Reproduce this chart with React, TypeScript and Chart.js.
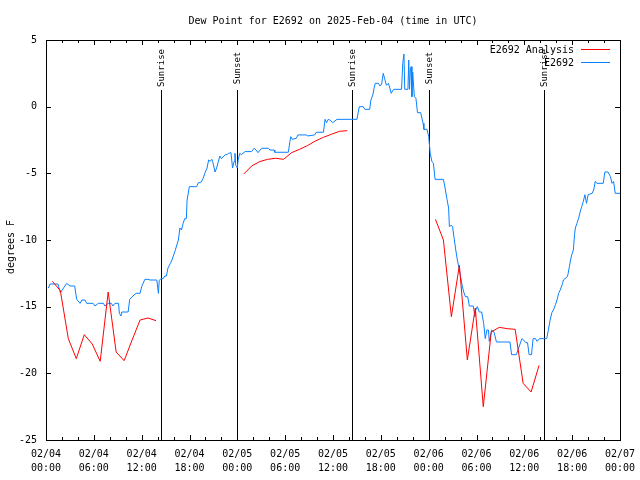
import React, { useEffect, useRef } from "react";
import { Chart, registerables } from "chart.js";

Chart.register(...registerables);

// Hours since 2025-02-04 00:00 UTC
const blueTimes = [
  0.3, 0.5, 1.5, 1.8, 2.6, 3.0, 3.6, 3.85, 4.27, 4.5, 4.9, 5.1, 5.9, 6.15, 6.56, 7.2, 7.4, 7.8, 8.2, 8.4,
  8.65, 9.1, 9.2, 9.4, 9.5, 10.3, 10.5, 10.9, 11.3, 11.8, 12.0, 12.4, 12.8, 13.05, 13.9, 14.1, 14.2, 14.4, 14.7, 14.9,
  15.1, 15.3, 15.6, 15.8, 16.2, 16.6, 16.8, 17.0, 17.2, 17.4, 17.6, 17.7, 17.98, 18.9, 19.1, 19.4, 19.7, 19.95, 20.2, 20.4,
  20.6, 20.8, 20.9, 21.2, 21.4, 21.8, 22.0, 22.5, 22.7, 22.9, 23.2, 23.4, 23.6, 23.7, 23.8, 24.0, 24.1, 24.3, 24.5, 24.97,
  25.8, 26.1, 26.35, 26.6, 27.05, 27.9, 28.1, 28.6, 28.7, 30.4, 30.6, 30.7, 30.9, 31.4, 31.6, 32.7, 32.8, 33.7, 33.9, 34.8,
  35.0, 35.2, 35.4, 35.6, 35.97, 36.5, 39.0, 39.3, 39.8, 40.0, 40.6, 40.75, 41.0, 41.15, 41.3, 41.7, 41.9, 42.1, 42.3, 42.5,
  42.7, 42.95, 43.2, 43.3, 43.6, 44.6, 44.75, 44.9, 45.0, 45.4, 45.5, 45.6, 45.7, 45.8, 45.9, 46.0, 46.2, 46.4, 46.6, 47.0,
  47.3, 47.4, 47.8, 48.0, 48.2, 48.4, 48.6, 48.8, 49.85, 50.06, 50.3, 50.5, 50.6, 50.8, 51.0, 51.2, 51.4, 51.6, 51.85, 52.0,
  52.2, 52.4, 52.6, 52.9, 53.1, 53.6, 53.8, 53.9, 54.1, 54.35, 54.65, 54.9, 55.1, 55.3, 55.5, 55.6, 55.9, 56.2, 56.5, 58.2,
  58.4, 59.0, 59.2, 59.7, 59.9, 60.2, 60.4, 60.6, 60.9, 61.1, 61.4, 61.6, 61.9, 62.8, 63.0, 63.2, 63.45, 63.65, 63.9, 64.1,
  64.3, 64.5, 64.8, 64.9, 65.1, 65.4, 65.5, 65.65, 65.8, 65.95, 66.15, 66.3, 66.4, 66.6, 66.8, 67.0, 67.2, 67.4, 67.6, 67.8,
  68.0, 68.5, 68.7, 68.9, 69.1, 69.9, 70.1, 70.5, 70.8, 71.0, 71.2, 71.4, 72.0,
];
const blueValues = [
  -13.6, -13.3, -13.3, -13.95, -13.25, -13.45, -13.45, -14.45, -14.75, -14.5, -14.5, -14.75, -14.75, -14.95, -14.75, -14.75, -14.95, -14.75, -14.75, -14.95,
  -14.75, -14.75, -15.5, -15.7, -15.4, -15.4, -14.45, -14.2, -14.0, -14.0, -13.5, -12.95, -12.95, -13.0, -13.0, -14.0, -13.05, -12.9, -12.9, -12.7,
  -12.7, -12.1, -11.75, -11.5, -10.8, -10.0, -9.1, -9.25, -8.75, -8.4, -8.4, -7.0, -6.0, -6.0, -5.7, -5.7, -5.4, -4.95, -4.6, -4.0,
  -4.1, -3.95, -4.1, -4.9, -4.6, -3.7, -3.9, -3.6, -3.6, -3.5, -3.45, -4.6, -4.1, -3.5, -4.4, -4.6, -4.0, -3.5, -3.6, -3.37,
  -3.37, -3.12, -3.25, -3.45, -3.12, -3.12, -3.25, -3.25, -3.42, -3.42, -2.6, -2.25, -2.45, -2.37, -2.12, -2.12, -2.2, -2.12, -1.92, -1.92,
  -0.95, -1.2, -0.95, -1.0, -1.2, -0.95, -0.95, 0.0, 0.0, -0.2, -0.2, 0.5, 0.88, 1.38, 1.75, 1.75, 1.55, 1.7, 2.5, 2.05,
  1.6, 1.75, 1.25, 1.0, 1.3, 1.3, 3.25, 3.95, 1.3, 1.3, 3.5, 1.3, 2.75, 3.0, 0.75, 2.6, 0.75, 0.63, -0.45, -0.45,
  -1.25, -1.7, -1.7, -2.25, -3.5, -4.1, -4.25, -5.45, -5.45, -6.1, -6.95, -7.6, -9.0, -8.9, -9.0, -9.9, -10.75, -11.5, -12.25, -12.75,
  -13.4, -13.9, -14.25, -14.25, -14.95, -14.95, -15.75, -15.25, -15.0, -15.4, -15.4, -16.25, -17.4, -16.75, -16.75, -17.6, -16.75, -16.9, -17.65, -17.65,
  -18.6, -18.6, -18.25, -17.4, -17.5, -17.7, -17.7, -18.6, -18.6, -17.4, -17.4, -17.6, -17.4, -17.4, -16.8, -16.1, -15.45, -15.25, -14.85, -14.5,
  -14.0, -13.75, -13.25, -13.0, -12.9, -12.75, -12.5, -12.0, -11.5, -11.1, -10.75, -9.6, -9.1, -8.75, -8.4, -7.9, -7.5, -7.1, -6.6, -7.25,
  -6.6, -6.5, -6.25, -5.6, -5.75, -5.75, -4.9, -4.9, -5.25, -5.75, -5.6, -6.5, -6.5,
];

// Analysis (hourly, with gaps marked by null)
const redTimes = [
  0.8, 1.8, 2.8, 3.8, 4.8, 5.8, 6.8, 7.8, 8.8, 9.8, 10.8, 11.8, 12.8, 13.8,
  19.0,
  24.8, 25.8, 26.8, 27.8, 28.8, 29.8, 30.8, 31.8, 32.8, 33.8, 34.8, 35.8, 36.8, 37.8,
  43.0,
  48.85, 49.85, 50.85, 51.85, 52.85, 53.85, 54.85, 55.85, 56.85, 57.85, 58.85, 59.85, 60.85, 61.85,
];
const redValues = [
  -13.1, -13.8, -17.4, -18.9, -17.1, -17.8, -19.1, -13.9, -18.4, -19.05, -17.5, -16.0, -15.85, -16.05,
  null,
  -5.05, -4.45, -4.12, -3.95, -3.87, -3.95, -3.45, -3.2, -2.92, -2.57, -2.3, -2.07, -1.85, -1.8,
  null,
  -8.45, -10.0, -15.75, -11.9, -19.0, -15.1, -22.5, -16.9, -16.55, -16.65, -16.7, -20.75, -21.4, -19.4,
];

const xTickDates = ["02/04", "02/04", "02/04", "02/04", "02/05", "02/05", "02/05", "02/05", "02/06", "02/06", "02/06", "02/06", "02/07"];
const xTickTimes = ["00:00", "06:00", "12:00", "18:00", "00:00", "06:00", "12:00", "18:00", "00:00", "06:00", "12:00", "18:00", "00:00"];

const sunLabels = ["Sunrise", "Sunset", "Sunrise", "Sunset", "Sunrise"];
const sunTimes = [14.42, 23.96, 38.38, 48.04, 62.47];

const seriesNames = ["E2692 Analysis", "E2692"];
const seriesColors = ["#ff0000", "#0a80ff"];

const FONT = '"DejaVu Sans Mono", "Liberation Mono", monospace';

const decor = {
  id: "decor",
  beforeDatasetsDraw(chart: any) {
    const { ctx, chartArea: a, scales } = chart;
    const x = scales.x;
    ctx.save();
    ctx.strokeStyle = "#000";
    ctx.fillStyle = "#000";
    ctx.lineWidth = 1;
    sunTimes.forEach((t, i) => {
      const px = Math.round(x.getPixelForValue(t)) + 0.5;
      ctx.beginPath();
      ctx.moveTo(px, a.top + 50);
      ctx.lineTo(px, a.bottom);
      ctx.stroke();
      ctx.save();
      ctx.translate(px, a.top + 28);
      ctx.rotate(-Math.PI / 2);
      ctx.font = "9px " + FONT;
      ctx.textAlign = "center";
      ctx.textBaseline = "middle";
      ctx.fillText(sunLabels[i], 0, 0);
      ctx.restore();
    });
    ctx.restore();
  },
  afterDatasetsDraw(chart: any) {
    const { ctx, chartArea: a, scales } = chart;
    const x = scales.x;
    const y = scales.y;
    ctx.save();
    ctx.strokeStyle = "#000";
    ctx.fillStyle = "#000";
    ctx.lineWidth = 1;
    // frame
    ctx.strokeRect(Math.round(a.left) + 0.5, Math.round(a.top) + 0.5, Math.round(a.right - a.left), Math.round(a.bottom - a.top));
    // x ticks (major every 6h, minor every 2h)
    ctx.beginPath();
    for (let h = 0; h <= 72; h += 2) {
      const px = Math.round(x.getPixelForValue(h)) + 0.5;
      const len = h % 6 === 0 ? 5 : 3;
      ctx.moveTo(px, a.bottom);
      ctx.lineTo(px, a.bottom - len);
      ctx.moveTo(px, a.top);
      ctx.lineTo(px, a.top + len);
    }
    // y ticks
    for (let v = -25; v <= 5; v += 5) {
      const py = Math.round(y.getPixelForValue(v)) + 0.5;
      ctx.moveTo(a.left, py);
      ctx.lineTo(a.left + 5, py);
      ctx.moveTo(a.right, py);
      ctx.lineTo(a.right - 5, py);
    }
    ctx.stroke();
    // title
    ctx.font = "10px " + FONT;
    ctx.textAlign = "center";
    ctx.textBaseline = "middle";
    ctx.fillText("Dew Point for E2692 on 2025-Feb-04 (time in UTC)", (a.left + a.right) / 2, 21);
    // y title
    ctx.save();
    ctx.translate(11, 247);
    ctx.rotate(-Math.PI / 2);
    ctx.fillText("degrees F", 0, 0);
    ctx.restore();
    // legend
    ctx.textAlign = "right";
    seriesNames.forEach((name, i) => {
      const ly = 50 + i * 13;
      ctx.fillStyle = "#000";
      ctx.fillText(name, 574, ly);
      ctx.strokeStyle = seriesColors[i];
      ctx.beginPath();
      ctx.moveTo(581, ly - 0.5);
      ctx.lineTo(610, ly - 0.5);
      ctx.stroke();
    });
    ctx.restore();
  },
};

export default function App() {
  const ref = useRef<HTMLCanvasElement | null>(null);
  useEffect(() => {
    document.body.style.margin = "0";
    const canvas = ref.current;
    if (!canvas) return;
    const chart = new Chart(canvas, {
      type: "line",
      data: {
        datasets: [
          {
            label: seriesNames[0],
            data: redTimes.map((t, i) => ({ x: t, y: redValues[i] })),
            borderColor: seriesColors[0],
            borderWidth: 1,
            pointRadius: 0,
            spanGaps: false,
            tension: 0,
          },
          {
            label: seriesNames[1],
            data: blueTimes.map((t, i) => ({ x: t, y: blueValues[i] })),
            borderColor: seriesColors[1],
            borderWidth: 1,
            pointRadius: 0,
            tension: 0,
          },
        ],
      },
      options: {
        responsive: false,
        animation: false,
        events: [],
        layout: { padding: { top: 40, right: 20, left: 0, bottom: 0 } },
        plugins: { legend: { display: false }, title: { display: false }, tooltip: { enabled: false } },
        scales: {
          x: {
            type: "linear",
            min: 0,
            max: 72,
            grid: { display: false, drawTicks: false },
            border: { display: false },
            afterFit: (s: any) => {
              s.height = 40;
              s.paddingLeft = 0;
              s.paddingRight = 0;
            },
            afterBuildTicks: (s: any) => {
              s.ticks = xTickDates.map((_, i) => ({ value: i * 6 }));
            },
            ticks: {
              autoSkip: false,
              maxRotation: 0,
              padding: 7,
              color: "#000",
              font: { family: FONT, size: 10, lineHeight: 1.4 },
              callback: (_v: any, i: number) => [xTickDates[i], xTickTimes[i]],
            },
          },
          y: {
            type: "linear",
            min: -25,
            max: 5,
            grid: { display: false, drawTicks: false },
            border: { display: false },
            afterFit: (s: any) => {
              s.width = 46;
              s.paddingTop = 0;
              s.paddingBottom = 0;
            },
            ticks: {
              stepSize: 5,
              padding: 9,
              color: "#000",
              font: { family: FONT, size: 10 },
            },
          },
        },
      },
      plugins: [decor],
    });
    return () => chart.destroy();
  }, []);
  return (
    <div style={{ width: 640, height: 480, background: "#fff" }}>
      <canvas ref={ref} width={640} height={480} />
    </div>
  );
}
